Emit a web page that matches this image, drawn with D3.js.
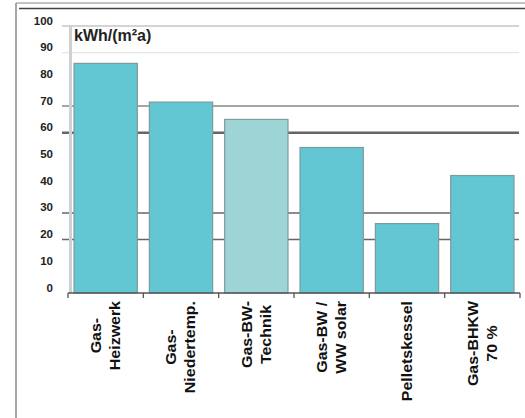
<!DOCTYPE html>
<html>
<head>
<meta charset="utf-8">
<script src="https://cdn.jsdelivr.net/npm/d3@7"></script>
<style>
  body { margin: 0; background: #fff; }
  svg { display: block; font-family: "Liberation Sans", Arial, sans-serif; }
</style>
</head>
<body>
<div id="chart"></div>
<script>
// Data
var categories = ["Gas-\nHeizwerk", "Gas-\nNiedertemp.", "Gas-BW-\nTechnik", "Gas-BW /\nWW solar", "Pelletskessel", "Gas-BHKW\n70 %"];
var values = [86, 71.5, 65, 54.5, 26, 44];
var tickValues = [0, 10, 20, 30, 40, 50, 60, 70, 80, 90, 100];
var gridValues = [100, 90, 70, 60, 30, 20];
var unitLabel = "kWh/(m²a)";

var width = 525,
    height = 418;

var svg = d3.select("#chart").append("svg")
    .attr("width", width)
    .attr("height", height);

// frame of the scanned slide
svg.append("line")
    .attr("x1", 16).attr("x2", 16).attr("y1", 3).attr("y2", height)
    .style("stroke", "#888").style("stroke-width", 1.5);
svg.append("line")
    .attr("x1", 16).attr("x2", width).attr("y1", 3).attr("y2", 3)
    .style("stroke", "#888").style("stroke-width", 1);
svg.append("line")
    .attr("x1", 19).attr("x2", width).attr("y1", 8.5).attr("y2", 8.5)
    .style("stroke", "#444").style("stroke-width", 1.5);

var x = d3.scaleBand()
    .domain(categories)
    .range([68, 520])
    .paddingInner(0.16)
    .paddingOuter(0.08);

var y = d3.scaleLinear()
    .domain([0, 100])
    .range([293, 26]);

// gridlines (only some of them survive in the original)
var gridStyle = {
  100: { color: "#aaa", w: 1.2 },
  90: { color: "#e6e6e6", w: 1.2 },
  70: { color: "#888", w: 1.5 },
  60: { color: "#666", w: 2.5 },
  30: { color: "#666", w: 1.5 },
  20: { color: "#666", w: 1.5 }
};

svg.append("g")
    .attr("class", "grid")
  .selectAll("line")
    .data(gridValues)
  .enter().append("line")
    .attr("x1", 62)
    .attr("x2", 519)
    .attr("y1", function(d) { return y(d); })
    .attr("y2", function(d) { return y(d); })
    .style("stroke", function(d) { return gridStyle[d].color; })
    .style("stroke-width", function(d) { return gridStyle[d].w; });

// light y axis line
svg.append("line")
    .attr("x1", 70.5).attr("x2", 70.5)
    .attr("y1", y(100)).attr("y2", y(0))
    .style("stroke", "#d0d0d0").style("stroke-width", 3);

// y tick labels, sitting a little above their value
svg.append("g")
    .attr("class", "ylabels")
  .selectAll("text")
    .data(tickValues)
  .enter().append("text")
    .attr("x", 53)
    .attr("y", function(d) { return y(d); })
    .attr("dy", -1.5)
    .attr("text-anchor", "end")
    .style("font-size", "11.5px")
    .style("font-weight", "bold")
    .style("fill", "#222")
    .text(function(d) { return d; });

// bars
svg.append("g")
    .attr("class", "bars")
  .selectAll("rect")
    .data(values)
  .enter().append("rect")
    .attr("x", function(d, i) { return x(categories[i]); })
    .attr("width", x.bandwidth())
    .attr("y", function(d) { return y(d); })
    .attr("height", function(d) { return y(0) - y(d); })
    .style("fill", function(d, i) { return i === 2 ? "#9dd5d6" : "#62c6d3"; })
    .style("stroke", "#7f999d")
    .style("stroke-width", 1.2);

// x axis baseline with ticks at the category boundaries
var xr = x.range();
svg.append("line")
    .attr("x1", xr[0]).attr("x2", xr[1])
    .attr("y1", y(0)).attr("y2", y(0))
    .style("stroke", "#555").style("stroke-width", 1.5);

svg.append("g")
    .attr("class", "xticks")
  .selectAll("line")
    .data(d3.range(categories.length + 1))
  .enter().append("line")
    .attr("x1", function(i) { return xr[0] + i * x.step(); })
    .attr("x2", function(i) { return xr[0] + i * x.step(); })
    .attr("y1", y(0))
    .attr("y2", y(0) + 5)
    .style("stroke", "#555")
    .style("stroke-width", 1.3);

// unit label
svg.append("text")
    .attr("x", 74)
    .attr("y", 41)
    .style("font-size", "16px")
    .style("font-weight", "bold")
    .style("fill", "#222")
    .text(unitLabel);

// rotated category labels, lines centred, block hanging from the axis
var labelTop = 301,
    lineGap = 19,
    stretch = 1.14;

var label = svg.append("g")
    .attr("class", "xlabels")
  .selectAll("g")
    .data(categories)
  .enter().append("g")
    .attr("transform", function(d) {
      return "translate(" + (x(d) + x.bandwidth() / 2) + "," + labelTop + ") rotate(-90) scale(" + stretch + ",1)";
    });

label.each(function(d) {
  var g = d3.select(this),
      lines = d.split("\n");

  var t = g.selectAll("text")
      .data(lines)
    .enter().append("text")
      .attr("text-anchor", "middle")
      .attr("y", function(l, i) { return (i - (lines.length - 1) / 2) * lineGap; })
      .attr("dy", "0.35em")
      .style("font-size", "14px")
      .style("font-weight", "bold")
      .style("fill", "#111")
      .text(function(l) { return l; });

  var maxLen = d3.max(t.nodes(), function(n) { return n.getComputedTextLength(); });
  t.attr("x", -maxLen / 2);
});
</script>
</body>
</html>
